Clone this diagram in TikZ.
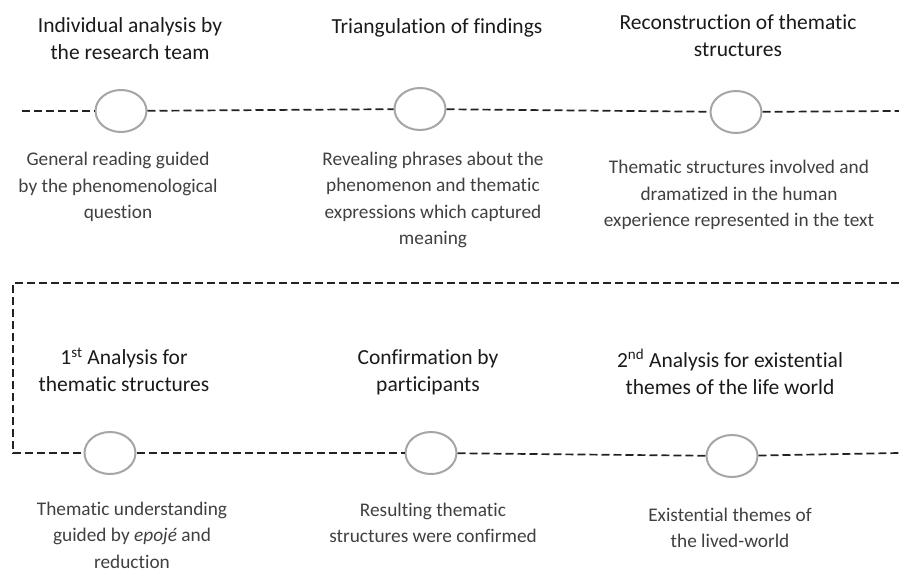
\documentclass[tikz,border=0pt]{standalone}
\usepackage{fontspec}
\setmainfont[Ligatures=NoCommon]{Carlito}
\usetikzlibrary{shapes.geometric}
\definecolor{headc}{HTML}{1A1A1A}
\definecolor{descc}{HTML}{404040}
\definecolor{ringc}{HTML}{A6A6A6}
\definecolor{dashc}{HTML}{222222}
\tikzset{
  head/.style={align=center, text=headc, font=\fontsize{21.5}{27}\selectfont, inner sep=0pt},
  desc/.style={align=center, text=descc, font=\fontsize{19.3}{26.5}\selectfont, inner sep=0pt},
  ring/.style={ellipse, draw=ringc, line width=2pt, fill=white, minimum width=51pt, minimum height=42pt, inner sep=0pt},
  dline/.style={draw=dashc, line width=1.7pt, dash pattern=on 8pt off 4pt},
}
\begin{document}
\begin{tikzpicture}[x=1pt,y=-1pt]
\useasboundingbox (0,0) rectangle (899,572);
% top row
\coordinate (tl) at (22,111);
\coordinate (tr) at (899,111);
\node[ring] (e1) at (121,111) {};
\node[ring] (e2) at (420,109) {};
\node[ring] (e3) at (736,112) {};
\draw[dline] (tl) -- (e1);
\draw[dline] (e1) -- (e2);
\draw[dline] (e2) -- (e3);
\draw[dline] (e3) -- (tr);
\node[head] (h1) at (130,39) {Individual analysis by\\the research team};
\node[head] (h2) at (437,28) {Triangulation of findings};
\node[head] (h3) at (738,36) {Reconstruction of thematic\\structures};
\node[desc] (d1) at (118,187) {General reading guided\\by the phenomenological\\question};
\node[desc] (d2) at (433,200) {Revealing phrases about the\\phenomenon and thematic\\expressions which captured\\meaning};
\node[desc] (d3) at (739,195) {Thematic structures involved and\\dramatized in the human\\experience represented in the text};
% bottom frame
\coordinate (br) at (899,283);
\coordinate (bc) at (13,283);
\coordinate (bl) at (13,453);
\coordinate (bend) at (899,453);
\node[ring] (f1) at (110,453) {};
\node[ring] (f2) at (431,453) {};
\node[ring] (f3) at (732,456) {};
\draw[dline] (br) -- (bc) -- (bl) -- (f1);
\draw[dline] (f1) -- (f2);
\draw[dline] (f2) -- (f3);
\draw[dline] (f3) -- (bend);
\node[head] (g1) at (124,370) {1\textsuperscript{st} Analysis for\\thematic structures};
\node[head] (g2) at (428,372) {Confirmation by\\participants};
\node[head] (g3) at (730,372) {2\textsuperscript{nd} Analysis for existential\\themes of the life world};
\node[desc] (k1) at (132,535) {Thematic understanding\\guided by \textit{epojé} and\\reduction};
\node[desc] (k2) at (433,523) {Resulting thematic\\structures were confirmed};
\node[desc] (k3) at (730,528) {Existential themes of\\the lived-world};
\end{tikzpicture}
\end{document}
